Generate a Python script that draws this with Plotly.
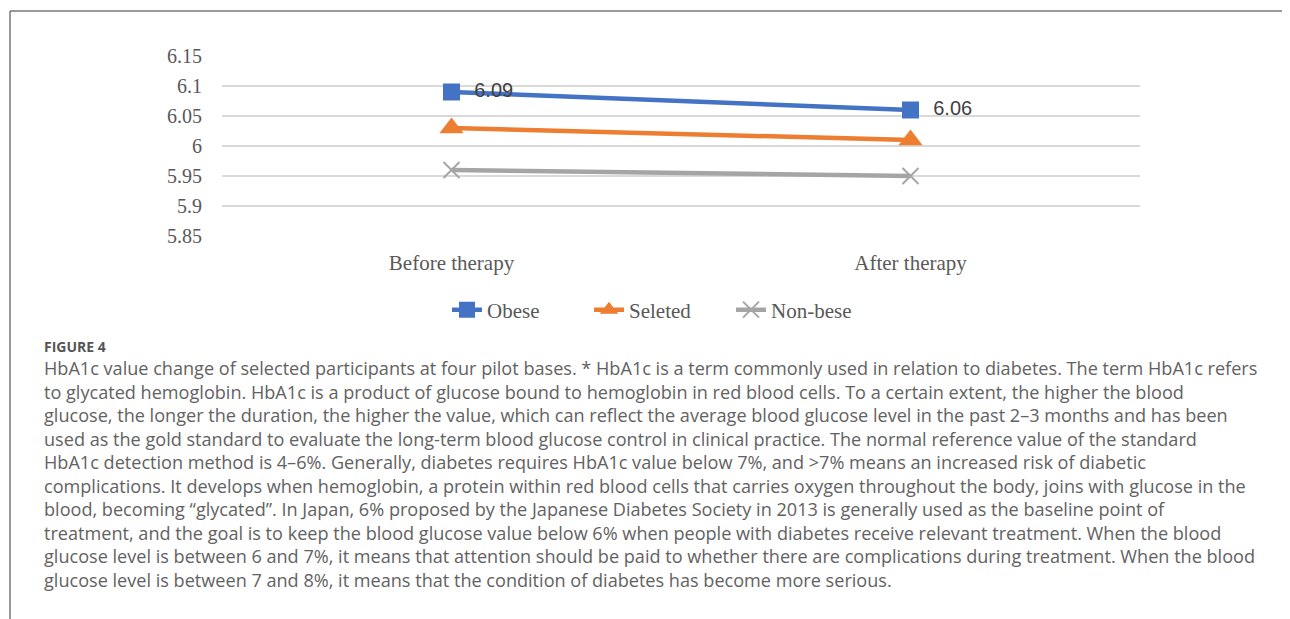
import plotly.graph_objects as go

categories = ["Before therapy", "After therapy"]
obese = [6.09, 6.06]
seleted = [6.03, 6.01]
non_bese = [5.96, 5.95]
obese_labels = ["\u00a0\u00a06.09", "\u00a0\u00a06.06"]
y_ticks = [5.85, 5.9, 5.95, 6.0, 6.05, 6.1, 6.15]

caption_title = "FIGURE 4"
caption_lines = [
    "HbA1c value change of selected participants at four pilot bases. * HbA1c is a term commonly used in relation to diabetes. The term HbA1c refers",
    "to glycated hemoglobin. HbA1c is a product of glucose bound to hemoglobin in red blood cells. To a certain extent, the higher the blood",
    "glucose, the longer the duration, the higher the value, which can reflect the average blood glucose level in the past 2\u20133 months and has been",
    "used as the gold standard to evaluate the long-term blood glucose control in clinical practice. The normal reference value of the standard",
    "HbA1c detection method is 4\u20136%. Generally, diabetes requires HbA1c value below 7%, and >7% means an increased risk of diabetic",
    "complications. It develops when hemoglobin, a protein within red blood cells that carries oxygen throughout the body, joins with glucose in the",
    "blood, becoming \u201cglycated\u201d. In Japan, 6% proposed by the Japanese Diabetes Society in 2013 is generally used as the baseline point of",
    "treatment, and the goal is to keep the blood glucose value below 6% when people with diabetes receive relevant treatment. When the blood",
    "glucose level is between 6 and 7%, it means that attention should be paid to whether there are complications during treatment. When the blood",
    "glucose level is between 7 and 8%, it means that the condition of diabetes has become more serious.",
]

OFF = 8  # browser body margin
W, H = 1290, 619
L, R, T, B = 222 - OFF, 150 + OFF, 56 - OFF, 383 + OFF
PH = H - T - B
PW = W - L - R


def px(x):
    return (x - OFF - L) / PW


def py(y):
    return (H - B - (y - OFF)) / PH


serif = "Liberation Serif"
sans = "Open Sans"

fig = go.Figure()
fig.add_trace(go.Scatter(
    x=categories, y=obese, name="Obese", mode="lines+markers+text",
    text=obese_labels, textposition="middle right",
    textfont=dict(family="Liberation Sans", size=20, color="#404040"),
    line=dict(color="#4472C4", width=4.5),
    marker=dict(symbol="square", size=17, color="#4472C4"),
))
fig.add_trace(go.Scatter(
    x=categories, y=seleted, name="Seleted", mode="lines+markers",
    line=dict(color="#ED7D31", width=4.5),
    marker=dict(symbol="triangle-up", size=21, color="#ED7D31"),
))
fig.add_trace(go.Scatter(
    x=categories, y=non_bese, name="Non-bese", mode="lines+markers",
    line=dict(color="#A5A5A5", width=4.5),
    marker=dict(symbol="x-thin", size=16, color="#A5A5A5",
                line=dict(color="#A5A5A5", width=2)),
))

annotations = [dict(
    text=caption_title, xref="paper", yref="paper", x=px(42), y=py(346),
    xanchor="left", yanchor="middle", showarrow=False,
    font=dict(family=sans, size=14, color="#555555", weight="bold"),
)]
for i, line in enumerate(caption_lines):
    annotations.append(dict(
        text=line, xref="paper", yref="paper", x=px(42), y=py(368 + i * 23.55),
        xanchor="left", yanchor="middle", showarrow=False,
        font=dict(family=sans, size=18.1, color="#626262"),
    ))

shapes = [
    dict(type="line", xref="paper", yref="paper", x0=px(10), x1=px(1300),
         y0=py(11), y1=py(11), line=dict(color="#777777", width=1.5)),
    dict(type="line", xref="paper", yref="paper", x0=px(10), x1=px(10),
         y0=py(11), y1=py(630), line=dict(color="#777777", width=1.5)),
]

fig.update_layout(
    width=W, height=H,
    margin=dict(l=L, r=R, t=T, b=B),
    plot_bgcolor="white", paper_bgcolor="white",
    showlegend=True,
    legend=dict(orientation="h", x=px(660), y=py(310), xanchor="center",
                yanchor="middle", font=dict(family=serif, size=21, color="#595959"),
                tracegroupgap=0, entrywidth=97, entrywidthmode="pixels"),
    xaxis=dict(range=[-0.5, 1.5], showgrid=False, showline=False, zeroline=False,
               tickfont=dict(family=serif, size=21, color="#595959"),
               ticks="", ticklabelstandoff=12),
    yaxis=dict(range=[5.85, 6.15], tickvals=y_ticks, showgrid=True,
               gridcolor="#d9d9d9", gridwidth=1.5, zeroline=False, showline=False,
               tickfont=dict(family=serif, size=20, color="#595959"),
               ticks="", ticklabelstandoff=19),
    annotations=annotations,
    shapes=shapes,
)

fig.write_html("out.html")
